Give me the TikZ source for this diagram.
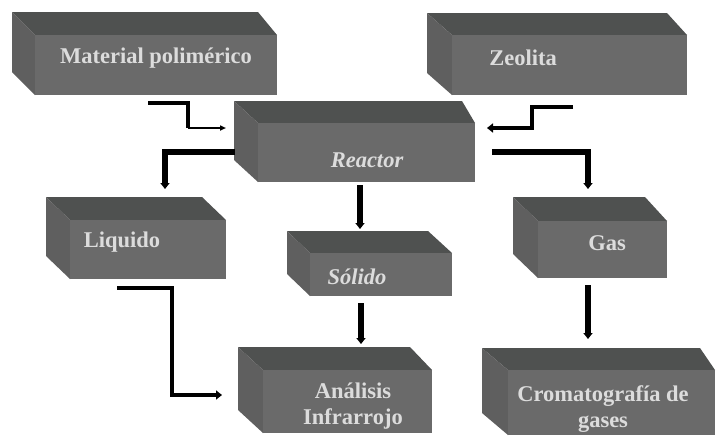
\documentclass[tikz,border=0pt]{standalone}
\usepackage{fontspec}
\setmainfont{Liberation Serif}
\usetikzlibrary{arrows.meta}
\definecolor{topc}{HTML}{4F5150}
\definecolor{leftc}{HTML}{5F5F5F}
\definecolor{frontc}{HTML}{6A6A6A}
\definecolor{txtc}{HTML}{DCDCDC}
\newcommand{\mycube}[8]{%
  \fill[topc] (#2,#3) -- (#4-#7,#3) -- (#4,#3+#8) -- (#2+#6,#3+#8) -- cycle;
  \fill[leftc] (#2,#3) -- (#2+#6,#3+#8) -- (#2+#6,#5) -- (#2,#5-#8) -- cycle;
  \pgfmathsetmacro{\cw}{#4-#2-#6}\pgfmathsetmacro{\ch}{#5-#3-#8}%
  \node[front, minimum width=\cw pt, minimum height=\ch pt] (#1) at ({(#2+#6+#4)/2},{(#3+#8+#5)/2}) {};
}
\tikzset{
  front/.style={fill=frontc, inner sep=0pt, outer sep=0pt, draw=none, rectangle},
  lbl/.style={text=txtc, font=\bfseries\fontsize{22.5}{25}\selectfont, align=center, inner sep=0pt},
  ilbl/.style={lbl, font=\bfseries\itshape\fontsize{22.5}{25}\selectfont},
  conn/.style={line width=5.5pt, line join=miter},
  mconn/.style={line width=4pt, line join=miter},
  tconn/.style={line width=2pt},
  tip/.style={-{Triangle[length=6pt,width=9pt]}},
}
\begin{document}
\begin{tikzpicture}[x=1pt,y=-1pt]
\useasboundingbox (0,0) rectangle (721,437);
% boxes
\mycube{mat}{12}{12}{277}{95}{23}{19}{23}
\mycube{zeo}{427}{13}{687}{95}{25}{20}{22}
\mycube{rea}{234}{101}{475}{182}{24}{13}{22}
\mycube{liq}{46}{197}{226}{279}{24}{24}{23}
\mycube{gas}{513}{197}{667}{278}{25}{22}{24}
\mycube{sol}{287}{231}{452}{296}{23}{24}{22}
\mycube{ana}{238}{347}{432}{433}{25}{22}{23}
\mycube{cro}{482}{348}{715}{435}{26}{15}{22}
% labels
\node[lbl] (matt) at (156,58) {Material polimérico};
\node[lbl] (zeot) at (523,58) {Zeolita};
\node[ilbl] (reat) at (367,160) {Reactor};
\node[lbl] (liqt) at (122,242) {Liquido};
\node[lbl] (gast) at (607,243) {Gas};
\node[ilbl] (solt) at (357,277) {Sólido};
\node[lbl] (anat) at (353,406) {Análisis\\[1pt]Infrarrojo};
\node[lbl] (crot) at (603,409) {Cromatografía de\\[1pt]gases};
% connector points
\coordinate (m1) at (148,103); \coordinate (m2) at (188,103); \coordinate (m3) at (188,128); \coordinate (m4) at (226,128);
\coordinate (z1) at (573,107); \coordinate (z2) at (532,107); \coordinate (z3) at (532,128); \coordinate (z4) at (487,128);
\coordinate (r1) at (235,152); \coordinate (r2) at (165,152); \coordinate (r3) at (165,189);
\coordinate (g1) at (492,152); \coordinate (g2) at (588,152); \coordinate (g3) at (588,189);
\coordinate (s1) at (360,185); \coordinate (s2) at (360,229);
\coordinate (a1) at (361,303); \coordinate (a2) at (361,344);
\coordinate (c1) at (588,285); \coordinate (c2) at (588,339);
\coordinate (l1) at (117,288); \coordinate (l2) at (172,288); \coordinate (l3) at (172,395); \coordinate (l4) at (222,395);
% connectors
\draw[mconn] (m1) -- (m2) -- (m3);
\draw[tconn,-{Triangle[length=6pt,width=5pt]}] (m3) -- (m4);
\draw[mconn,tip] (z1) -- (z2) -- (z3) -- (z4);
\draw[conn,tip] (r1) -- (r2) -- (r3);
\draw[conn,tip] (g1) -- (g2) -- (g3);
\draw[conn,tip] (s1) -- (s2);
\draw[conn,tip] (a1) -- (a2);
\draw[conn,tip] (c1) -- (c2);
\draw[mconn,tip] (l1) -- (l2) -- (l3) -- (l4);
\end{tikzpicture}
\end{document}
